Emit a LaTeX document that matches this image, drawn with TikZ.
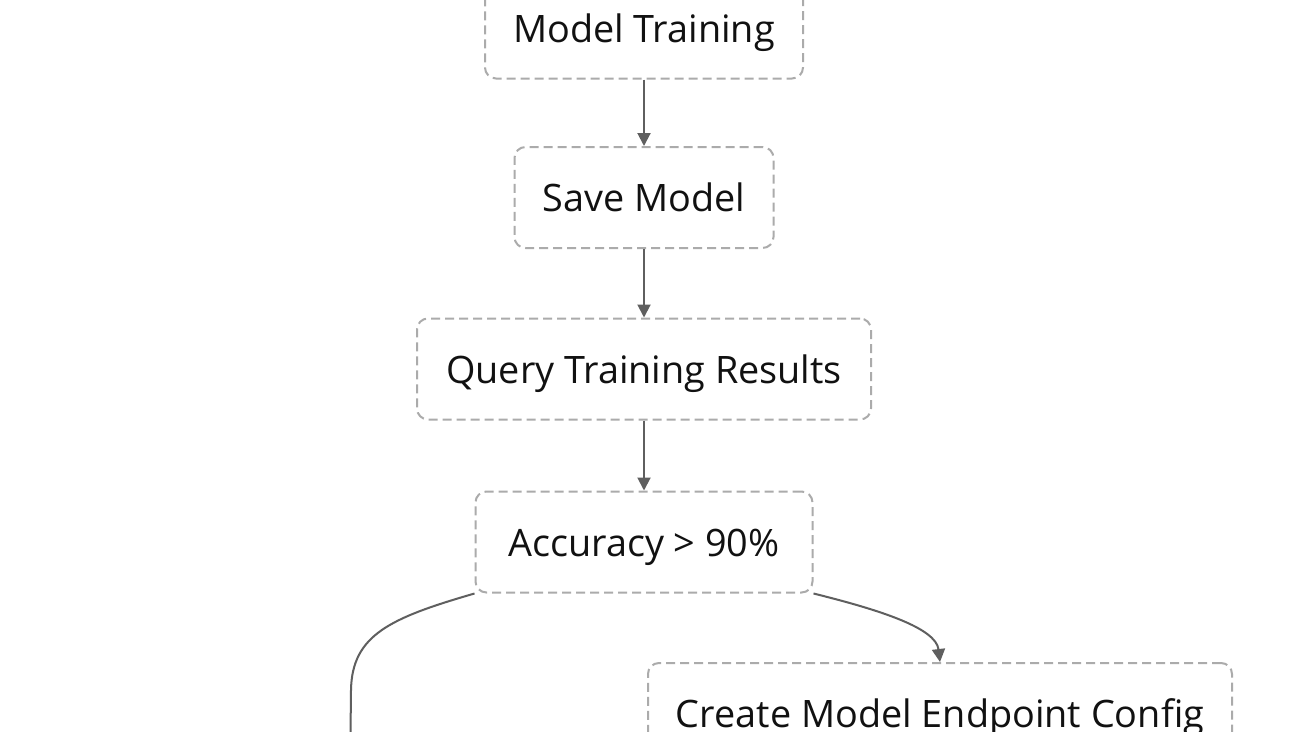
\documentclass[tikz,border=0pt]{standalone}
\usepackage{fontspec}
\setmainfont{Open Sans}
\usetikzlibrary{arrows.meta}
\definecolor{boxgray}{HTML}{ABABAB}
\definecolor{linegray}{HTML}{5F5F5F}
\definecolor{txt}{HTML}{111111}
\tikzset{
  stepbox/.style={draw=boxgray, line width=2pt, dash pattern=on 9pt off 5pt,
    rounded corners=11pt, minimum height=101pt, inner sep=0pt,
    text height=28pt, text depth=0pt,
    text=txt, font=\fontsize{37.8pt}{44pt}\selectfont},
  flow/.style={draw=linegray, line width=2pt, -{Triangle[length=13pt,width=13pt]}},
  flowend/.style={draw=linegray, line width=2pt}
}
\begin{document}
\begin{tikzpicture}[x=1pt,y=-1pt]
\useasboundingbox (0,0) rectangle (1300,731);
\clip (0,0) rectangle (1300,731);
\fill[white] (0,0) rectangle (1300,731);
\node[stepbox, minimum width=318pt] (train) at (644,28) {Model Training};
\node[stepbox, minimum width=259pt] (save) at (644,197.5) {Save Model};
\node[stepbox, minimum width=454pt] (query) at (644,369) {Query Training Results};
\node[stepbox, minimum width=337pt] (acc) at (644,542) {Accuracy > 90\%};
\node[stepbox, minimum width=584pt] (create) at (940,713.5) {Create Model Endpoint Config};
\coordinate (leftend) at (350,780);
\draw[flow] (train.south) -- (save.north);
\draw[flow] (save.south) -- (query.north);
\draw[flow] (query.south) -- (acc.north);
\draw[flow] (acc.south east) .. controls (880,610) and (936,628) .. (create.north);
\draw[flowend] (acc.south west) .. controls (390,618) and (352,635) .. (351,690) -- (leftend);
\end{tikzpicture}
\end{document}
